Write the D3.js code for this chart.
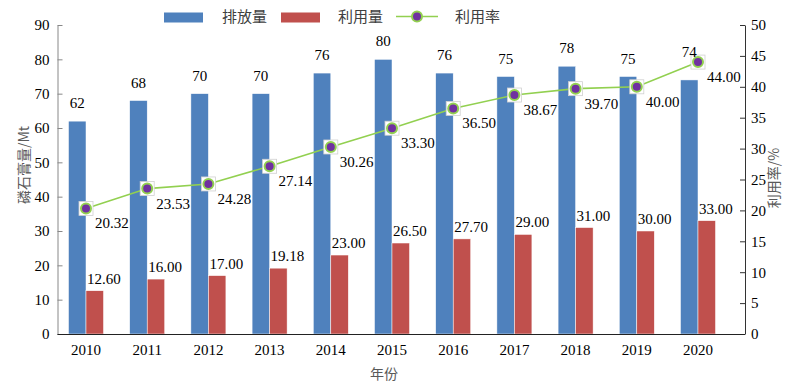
<!DOCTYPE html>
<html><head><meta charset="utf-8">
<script src="https://cdn.jsdelivr.net/npm/d3@7"></script>
<style>body{margin:0;background:#fff}svg{display:block}</style>
</head><body>
<svg id="c" width="800" height="383"></svg>
<script>
const years = ["2010","2011","2012","2013","2014","2015","2016","2017","2018","2019","2020"];
const emission = [62,68,70,70,76,80,76,75,78,75,74];
const usage = [12.60,16.00,17.00,19.18,23.00,26.50,27.70,29.00,31.00,30.00,33.00];
const rate = [20.32,23.53,24.28,27.14,30.26,33.30,36.50,38.67,39.70,40.00,44.00];
const leftTicks = [0,10,20,30,40,50,60,70,80,90];
const rightTicks = [0,5,10,15,20,25,30,35,40,45,50];

const svg = d3.select("#c");
const serif = "'Liberation Serif','Times New Roman',serif";
const cjk = "'Noto Sans CJK SC',sans-serif";
const BLUE="#4F81BD", RED="#C0504D", GREEN="#92D050", PURPLE="#7030A0";

const x = d3.scaleBand().domain(years).range([55.4, 728.6]);
const yL = d3.scaleLinear().domain([0,90]).range([334,25]);
const yR = d3.scaleLinear().domain([0,50]).range([334,25]);
const bw = x.bandwidth()*0.286;
const cx = d => x(d) + x.bandwidth()/2;

// bars
svg.append("g").selectAll("rect").data(years).join("rect")
  .attr("x", d => cx(d)-bw).attr("y", (d,i)=>yL(emission[i]))
  .attr("width", bw).attr("height",(d,i)=>yL(0)-yL(emission[i]))
  .attr("fill", BLUE).attr("stroke","#fff").attr("stroke-width",0.5);
svg.append("g").selectAll("rect").data(years).join("rect")
  .attr("x", d => cx(d)).attr("y", (d,i)=>yL(usage[i]))
  .attr("width", bw).attr("height",(d,i)=>yL(0)-yL(usage[i]))
  .attr("fill", RED).attr("stroke","#fff").attr("stroke-width",0.5);

// axes
const gL = svg.append("g").attr("transform","translate(57.5,0)")
  .call(d3.axisLeft(yL).tickValues(leftTicks).tickSizeInner(-5).tickSizeOuter(0).tickPadding(8));
gL.selectAll("path,line").attr("stroke","#888");
gL.selectAll("text").attr("font-family",serif).attr("font-size",15).attr("fill","#000");

const gR = svg.append("g").attr("transform","translate(745,0)")
  .call(d3.axisRight(yR).tickValues(rightTicks).tickSizeInner(-5).tickSizeOuter(0).tickPadding(6));
gR.selectAll("path,line").attr("stroke","#333");
gR.selectAll("text").attr("font-family",serif).attr("font-size",15).attr("fill","#000");

svg.append("line").attr("x1",57.5).attr("x2",745).attr("y1",334.5).attr("y2",334.5).attr("stroke","#222");

svg.append("g").selectAll("text").data(years).join("text")
  .attr("x", d=>cx(d)).attr("y",355).attr("text-anchor","middle")
  .attr("font-family",serif).attr("font-size",15).text(d=>d);

// line
const line = d3.line().x((d,i)=>cx(years[i])).y(d=>yR(d));
svg.append("path").datum(rate).attr("d",line).attr("fill","none").attr("stroke",GREEN).attr("stroke-width",1.6);
const mk = svg.append("g").selectAll("g").data(rate).join("g")
  .attr("transform",(d,i)=>`translate(${cx(years[i])},${yR(d)})`);
mk.append("rect").attr("x",-7).attr("y",-7).attr("width",14).attr("height",14).attr("fill","#fff").attr("stroke","#d0d0d0").attr("stroke-width",0.8);
mk.append("circle").attr("r",5).attr("fill",PURPLE).attr("stroke",GREEN).attr("stroke-width",2);

// labels
svg.append("g").selectAll("text").data(emission).join("text")
  .attr("x",(d,i)=>cx(years[i])-bw/2)
  .attr("y",(d,i)=>Math.min(yL(d)-13, yR(rate[i])-5))
  .attr("text-anchor","middle").attr("font-family",serif).attr("font-size",15).text(d=>d);
svg.append("g").selectAll("text").data(usage).join("text")
  .attr("x",(d,i)=>cx(years[i])+1).attr("y",d=>yL(d)-7)
  .attr("font-family",serif).attr("font-size",15).text(d=>d.toFixed(2));
svg.append("g").selectAll("text").data(rate).join("text")
  .attr("x",(d,i)=>cx(years[i])+9).attr("y",d=>yR(d)+20)
  .attr("font-family",serif).attr("font-size",15).text(d=>d.toFixed(2));

// titles
svg.append("text").attr("transform","translate(29,165) rotate(-90)").attr("text-anchor","middle")
  .attr("font-family",cjk).attr("font-size",14).attr("fill","#595959").text("磷石膏量/Mt");
svg.append("text").attr("transform","translate(779,178) rotate(-90)").attr("text-anchor","middle")
  .attr("font-family",cjk).attr("font-size",14).attr("fill","#595959").text("利用率/%");
svg.append("text").attr("x",384).attr("y",379).attr("text-anchor","middle")
  .attr("font-family",cjk).attr("font-size",14).attr("fill","#595959").text("年份");

// legend
const lg = svg.append("g");
lg.append("rect").attr("x",164).attr("y",12.5).attr("width",39).attr("height",10).attr("fill",BLUE);
lg.append("text").attr("x",222).attr("y",22).attr("font-family",cjk).attr("font-size",15).attr("fill","#404040").text("排放量");
lg.append("rect").attr("x",281).attr("y",12.5).attr("width",39).attr("height",10).attr("fill",RED);
lg.append("text").attr("x",338).attr("y",22).attr("font-family",cjk).attr("font-size",15).attr("fill","#404040").text("利用量");
lg.append("line").attr("x1",396).attr("x2",438).attr("y1",16.5).attr("y2",16.5).attr("stroke",GREEN).attr("stroke-width",1.6);
lg.append("circle").attr("cx",417).attr("cy",16.5).attr("r",5).attr("fill",PURPLE).attr("stroke",GREEN).attr("stroke-width",2);
lg.append("text").attr("x",455).attr("y",22).attr("font-family",cjk).attr("font-size",15).attr("fill","#404040").text("利用率");
</script>
</body></html>
